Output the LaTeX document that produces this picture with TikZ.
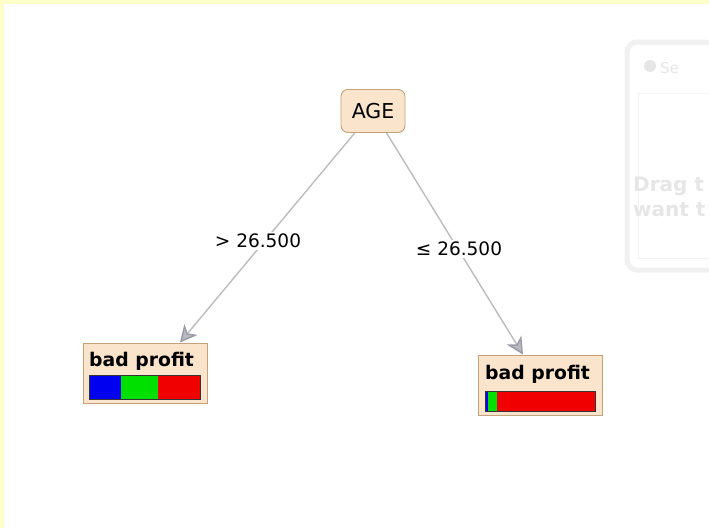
\documentclass[tikz,border=0pt]{standalone}
\usepackage{fontspec}
\setmainfont{DejaVu Sans}
\usetikzlibrary{arrows.meta,calc}

\definecolor{nodefill}{HTML}{FAE5CC}
\definecolor{nodeline}{HTML}{C4A27C}
\definecolor{edgegray}{HTML}{BDBDBD}
\definecolor{tipgray}{HTML}{9A9AA6}
\definecolor{frameyellow}{HTML}{FFFFCC}
\definecolor{ghost}{HTML}{F1F1F1}
\definecolor{ghosttext}{HTML}{E6E6E6}
\definecolor{barblue}{HTML}{0000F0}
\definecolor{bargreen}{HTML}{00E000}
\definecolor{barred}{HTML}{F00000}

\tikzset{
  splitnode/.style={draw=nodeline, fill=nodefill, rounded corners=7pt, line width=0.9pt,
    minimum width=64pt, minimum height=43pt, inner sep=0pt, font=\fontsize{20.5}{24}\selectfont},
  leafbox/.style={draw=nodeline, fill=nodefill, line width=0.9pt,
    minimum width=124pt, minimum height=60pt, inner sep=0pt},
  leaftext/.style={font=\fontsize{18.8}{22}\selectfont\bfseries, inner sep=0pt},
  edge/.style={draw=edgegray, line width=1.4pt,
    -{Stealth[length=17pt, width=17pt, inset=5pt, color=tipgray, fill=tipgray!70]}},
  edgelabel/.style={fill=white, inner sep=2pt, font=\fontsize{18.5}{22}\selectfont},
  barframe/.style={draw=black!80, line width=1pt},
}

\begin{document}
\begin{tikzpicture}[x=1pt, y=-1pt]
  \useasboundingbox (0,0) rectangle (709,528);
  \fill[white] (0,0) rectangle (709,528);
  % window frame strips
  \fill[frameyellow] (0,0) rectangle (709,4);
  \fill[frameyellow] (0,0) rectangle (4,528);

  % faded side panel, partly off the right edge
  \begin{scope}
    \clip (600,30) rectangle (709,290);
    \draw[ghost, line width=5pt, rounded corners=10pt] (627,42) rectangle (740,270);
    \draw[ghost!80, line width=1pt] (638,93) -- (740,93);
    \draw[ghost!90, line width=1pt] (638,93) -- (638,258) -- (740,258);
    \node[anchor=base west, text=ghosttext, inner sep=0pt, font=\fontsize{15}{18}\selectfont] (ghosttitle) at (660,73) {Se};
    \fill[ghosttext] (650,66) circle (6pt);
    \node[anchor=base west, text=ghosttext, inner sep=0pt, font=\fontsize{20}{24}\selectfont\bfseries] (ghostline1) at (633,191) {Drag t};
    \node[anchor=base west, text=ghosttext, inner sep=0pt, font=\fontsize{20}{24}\selectfont\bfseries] (ghostline2) at (633,216) {want t};
  \end{scope}

  % tree nodes
  \node[splitnode] (age) at (373,111) {AGE};
  \node[leafbox] (leafL) at (145,373) {};
  \node[leafbox] (leafR) at (540,385) {};
  \node[leaftext, anchor=base west] (leafLt) at (89,366) {bad profit};
  \node[leaftext, anchor=base west] (leafRt) at (485,379) {bad profit};

  % class distribution bars
  \fill[barblue]  (89,375) rectangle (121,399);
  \fill[bargreen] (121,375) rectangle (158,399);
  \fill[barred]   (158,375) rectangle (200,399);
  \draw[barframe] (89,375) rectangle (200,399);

  \fill[barblue]  (485,391) rectangle (488,411);
  \fill[bargreen] (488,391) rectangle (497,411);
  \fill[barred]   (497,391) rectangle (595,411);
  \draw[barframe] (485,391) rectangle (595,411);

  % branches
  \coordinate (tipL) at ([xshift=35pt]leafL.north);
  \coordinate (tipR) at ([xshift=-17pt]leafR.north);
  \draw[edge] (age) -- (tipL);
  \draw[edge] (age) -- (tipR);
  \node[edgelabel] (labL) at (258,241) {> 26.500};
  \node[edgelabel] (labR) at (459,249) {≤ 26.500};
\end{tikzpicture}
\end{document}
